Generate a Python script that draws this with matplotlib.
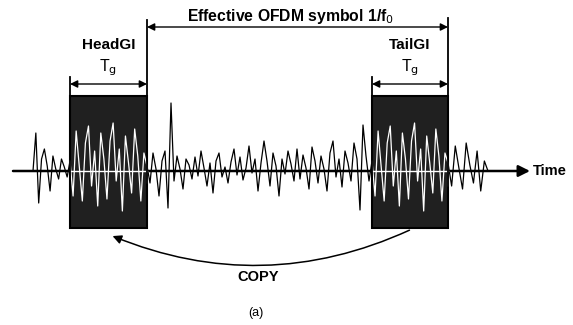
import numpy as np
import matplotlib.pyplot as plt
from matplotlib.patches import Rectangle, FancyArrowPatch

plt.rcParams['font.family'] = ['Liberation Sans', 'DejaVu Sans']

# signal samples (pixel amplitude, positive = up)
pre = [0, 38, -32, 12, 22, 5, -20, 15, 2, -8, 12, 4, -6]
gi = [10, -25, 40, 5, -30, 28, 45, -15, 20, -35, 38, 12, -28,
      30, 48, -10, 22, -40, 35, 8, -22, 42, 15, -30, 18]
body = [5, -12, 18, 2, -25, 10, 20, -37, 68, -10, 15, 2, -18, 12, 6,
        -8, 14, -5, 20, 3, -15, 8, -22, 10, 18, -6, 4, -12, 9, 22,
        -4, 14, -9, 3, 25, -2, 12, -20, 8, 30, 10, -15, 18, 5, -25,
        12, -3, 20, 7, -10, 22, -8, 16, 3, -18, 24, 10, -12, 15, 2,
        -20, 18, 30, -6, 12, -16, 20, 8, -10, 28, 12, -39, 46, 15, -10]
post = [8, -15, 25, 3, -18, 28, 6, -12, 20, -20, 10, 0]

labels_gi = ["HeadGI", "TailGI"]
label_tg = r"T$_{\rm g}$"
label_sym = r"Effective OFDM symbol 1/f$_{\rm 0}$"

y0 = 171
head = (70, 147)
tail = (372, 448)

fig = plt.figure(figsize=(5.73, 3.25), dpi=100)
ax = fig.add_axes([0, 0, 1, 1])
ax.set_xlim(0, 573)
ax.set_ylim(325, 0)
ax.axis('off')

xs = np.concatenate([
    np.linspace(33, head[0], len(pre), endpoint=False),
    np.linspace(head[0], head[1], len(gi), endpoint=False),
    np.linspace(head[1], tail[0], len(body), endpoint=False),
    np.linspace(tail[0], tail[1], len(gi), endpoint=False),
    np.linspace(tail[1], 488, len(post)),
])
ys = y0 - np.array(pre + gi + body + gi + post, dtype=float)

# time axis
ax.annotate("", xy=(530, y0), xytext=(13, y0),
            arrowprops=dict(arrowstyle='-|>', color='black', lw=1.8,
                            mutation_scale=17, shrinkA=0, shrinkB=0))
ax.text(533, y0, "Time", ha='left', va='center', fontsize=10.5,
        fontweight='bold')

ax.plot(xs, ys, color='black', lw=0.9, zorder=2)

# guard interval boxes with white copy of the waveform inside
for (a, b), lab in zip([head, tail], labels_gi):
    ax.add_patch(Rectangle((a, 96), b - a, 132, facecolor='#202020',
                           edgecolor='black', lw=1.5, zorder=3))
    m = (xs >= a) & (xs <= b)
    xg = np.append(xs[m], b)
    yg = np.append(ys[m], ys[np.argmax(xs > b)] if np.any(xs > b) else y0)
    ax.plot(xg, np.clip(yg, 98, 226), color='white', lw=0.9, zorder=4)
    ax.plot([a, b], [y0, y0], color='white', lw=1.0, zorder=4)
    ax.plot([a, a], [77, 228], color='black', lw=1.3, zorder=5)
    ax.annotate("", xy=(a, 84), xytext=(b, 84),
                arrowprops=dict(arrowstyle='<|-|>', color='black', lw=1.0,
                                mutation_scale=11, shrinkA=0, shrinkB=0))
    ax.text((a + b) / 2, 45, lab, ha='center', va='center', fontsize=11,
            fontweight='bold')
    ax.text((a + b) / 2, 68, label_tg, ha='center', va='center',
            fontsize=11.5)

# effective symbol span
ax.plot([head[1], head[1]], [20, 228], color='black', lw=1.3, zorder=5)
ax.plot([tail[1], tail[1]], [18, 228], color='black', lw=1.3, zorder=5)
ax.annotate("", xy=(head[1], 27), xytext=(tail[1], 27),
            arrowprops=dict(arrowstyle='<|-|>', color='black', lw=1.0,
                            mutation_scale=11, shrinkA=0, shrinkB=0))
ax.text(291, 16, label_sym, ha='center', va='center', fontsize=11.3,
        fontweight='bold')

# copy arrow
ax.add_patch(FancyArrowPatch((412, 229), (110, 235),
                             connectionstyle="arc3,rad=-0.22",
                             arrowstyle='-|>', mutation_scale=13,
                             color='black', lw=1.1, zorder=6))
ax.text(258, 277, "COPY", ha='center', va='center', fontsize=10.5,
        fontweight='bold')
ax.text(256, 313, "(a)", ha='center', va='center', fontsize=9)

fig.savefig("out.png", dpi=100)
